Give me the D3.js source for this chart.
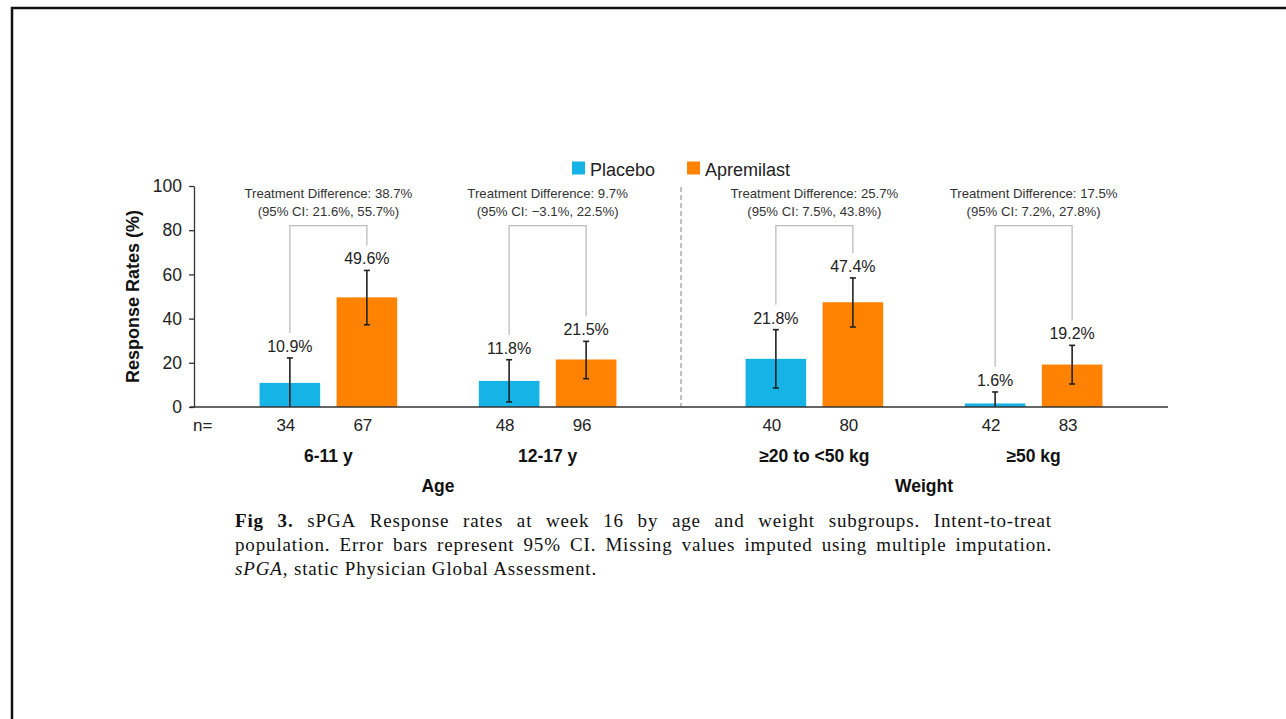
<!DOCTYPE html>
<html>
<head>
<meta charset="utf-8">
<script src="https://cdn.jsdelivr.net/npm/d3@7"></script>
<style>
  html, body { margin: 0; padding: 0; background: #fff; }
  svg { display: block; }
</style>
</head>
<body>
<svg id="chart" width="1286" height="719"></svg>
<script>
// ---------- DATA ----------
const categories = ["6-11 y", "12-17 y", "≥20 to <50 kg", "≥50 kg"];
const panelOf = ["Age", "Age", "Weight", "Weight"];
const panels = ["Age", "Weight"];
const seriesNames = ["Placebo", "Apremilast"];
const seriesColors = ["#16B3E6", "#FF8200"];

const placebo = [10.9, 11.8, 21.8, 1.6];
const placeboLow = [0, 2.3, 8.6, 0];
const placeboHigh = [22.2, 21.4, 35.0, 6.8];
const placeboN = [34, 48, 40, 42];

const apremilast = [49.6, 21.5, 47.4, 19.2];
const apremilastLow = [37.2, 12.8, 36.2, 10.4];
const apremilastHigh = [61.8, 29.7, 58.4, 27.9];
const apremilastN = [67, 96, 80, 83];

const diff = [38.7, 9.7, 25.7, 17.5];
const diffLow = [21.6, -3.1, 7.5, 7.2];
const diffHigh = [55.7, 22.5, 43.8, 27.8];

const yTicks = [0, 20, 40, 60, 80, 100];
const yTitle = "Response Rates (%)";

const captionLines = [
  [{t: "Fig", b: true}, {t: "3.", b: true}, "sPGA", "Response", "rates", "at", "week", "16", "by", "age", "and", "weight", "subgroups.", "Intent-to-treat"],
  ["population.", "Error", "bars", "represent", "95%", "CI.", "Missing", "values", "imputed", "using", "multiple", "imputation."]
];

// ---------- LAYOUT ----------
const svg = d3.select("#chart");
const sans = "'Liberation Sans', Arial, sans-serif";
const serif = "'Liberation Serif', 'Times New Roman', serif";

const axisLeft = 194, axisRight = 1168;
const panelGap = 47.5, outerPad = 24.75;
const y = d3.scaleLinear().domain([0, 100]).range([407, 186]);

const xGroup = d3.scaleBand().domain(categories)
  .range([axisLeft + outerPad, axisRight - outerPad - panelGap]).padding(0);
const gx = (c, i) => xGroup(c) + (panelOf[i] === "Weight" ? panelGap : 0);
const xInner = d3.scaleBand().domain(seriesNames)
  .range([0, xGroup.bandwidth()]).paddingInner(0.213).paddingOuter(0.53);

const rows = categories.map((c, i) => ({
  cat: c, i,
  series: [
    {name: "Placebo", v: placebo[i], lo: placeboLow[i], hi: placeboHigh[i], n: placeboN[i], color: seriesColors[0]},
    {name: "Apremilast", v: apremilast[i], lo: apremilastLow[i], hi: apremilastHigh[i], n: apremilastN[i], color: seriesColors[1]}
  ]
}));
const cx = (r, s) => gx(r.cat, r.i) + xInner(s.name) + xInner.bandwidth() / 2;
const fmt1 = d3.format(".1f");

// Border frame
svg.append("path").attr("d", "M12,719V8H1286")
  .attr("fill", "none").attr("stroke", "#111").attr("stroke-width", 2.5);

// Divider
const divX = xGroup(categories[2]) + panelGap / 2;
svg.append("line").attr("x1", divX).attr("x2", divX).attr("y1", 187).attr("y2", y(0))
  .attr("stroke", "#9a9a9a").attr("stroke-width", 1.2).attr("stroke-dasharray", "5,3");

// Y axis
const yAxis = svg.append("g").attr("transform", `translate(${axisLeft},0)`)
  .call(d3.axisLeft(y).tickValues(yTicks).tickSize(5).tickSizeOuter(0).tickPadding(7));
yAxis.select(".domain").attr("stroke", "#333").attr("stroke-width", 1.3);
yAxis.selectAll(".tick line").attr("stroke", "#333").attr("stroke-width", 1.3);
yAxis.selectAll(".tick text").attr("font-family", sans).attr("font-size", 17.5).attr("fill", "#222");

svg.append("text").attr("transform", `translate(139,${(y(0) + y(100)) / 2}) rotate(-90)`)
  .attr("text-anchor", "middle").attr("font-family", sans).attr("font-weight", "bold")
  .attr("font-size", 18).attr("fill", "#111").text(yTitle);

// Bars
const g = svg.append("g");
rows.forEach(r => {
  r.series.forEach(s => {
    g.append("rect")
      .attr("x", gx(r.cat, r.i) + xInner(s.name))
      .attr("width", xInner.bandwidth())
      .attr("y", y(s.v)).attr("height", y(0) - y(s.v))
      .attr("fill", s.color);
  });
});

// X axis line
svg.append("line").attr("x1", axisLeft - 4).attr("x2", axisRight).attr("y1", y(0)).attr("y2", y(0))
  .attr("stroke", "#333").attr("stroke-width", 1.5);

// Error bars, value labels, brackets
const bracketY = 225.7;
rows.forEach(r => {
  const ends = [];
  r.series.forEach(s => {
    const x = cx(r, s);
    g.append("line").attr("x1", x).attr("x2", x).attr("y1", y(s.hi)).attr("y2", y(s.lo))
      .attr("stroke", "#222").attr("stroke-width", 1.6);
    [s.hi, s.lo].forEach(v => {
      if (v > 0) g.append("line").attr("x1", x - 3).attr("x2", x + 3).attr("y1", y(v)).attr("y2", y(v))
        .attr("stroke", "#222").attr("stroke-width", 1.6);
    });
    const base = y(s.hi) - 6;
    g.append("text").attr("x", x).attr("y", base).attr("text-anchor", "middle")
      .attr("font-family", sans).attr("font-size", 16).attr("fill", "#222")
      .text(fmt1(s.v) + "%");
    ends.push({x, yEnd: base - 19});
    // n
    svg.append("text").attr("x", x - 4).attr("y", 431).attr("text-anchor", "middle")
      .attr("font-family", sans).attr("font-size", 17).attr("fill", "#222").text(s.n);
  });
  g.append("path")
    .attr("d", `M${ends[0].x},${ends[0].yEnd}V${bracketY}H${ends[1].x}V${ends[1].yEnd}`)
    .attr("fill", "none").attr("stroke", "#bdbdbd").attr("stroke-width", 1.3);
  const mid = gx(r.cat, r.i) + xGroup.bandwidth() / 2;
  const t = svg.append("text").attr("text-anchor", "middle").attr("font-family", sans)
    .attr("font-size", 13.2).attr("fill", "#333");
  t.append("tspan").attr("x", mid).attr("y", 198).text(`Treatment Difference: ${fmt1(diff[r.i])}%`);
  t.append("tspan").attr("x", mid).attr("y", 215.5).text(`(95% CI: ${fmt1(diffLow[r.i])}%, ${fmt1(diffHigh[r.i])}%)`);
  // group label
  svg.append("text").attr("x", mid).attr("y", 462).attr("text-anchor", "middle")
    .attr("font-family", sans).attr("font-weight", "bold").attr("font-size", 17.5).attr("fill", "#111")
    .text(r.cat);
});

svg.append("text").attr("x", axisLeft - 1).attr("y", 431).attr("font-family", sans)
  .attr("font-size", 17).attr("fill", "#222").text("n=");

// Panel labels
panels.forEach(p => {
  const idx = panelOf.map((q, i) => q === p ? i : -1).filter(i => i >= 0);
  const xs = idx.map(i => gx(categories[i], i) + xGroup.bandwidth() / 2);
  svg.append("text").attr("x", d3.mean(xs)).attr("y", 492).attr("text-anchor", "middle")
    .attr("font-family", sans).attr("font-weight", "bold").attr("font-size", 17.5).attr("fill", "#111")
    .text(p);
});

// Legend
const legX = [572, 687];
seriesNames.forEach((name, i) => {
  svg.append("rect").attr("x", legX[i]).attr("y", 161.5).attr("width", 13).attr("height", 13)
    .attr("fill", seriesColors[i]);
  svg.append("text").attr("x", legX[i] + 18).attr("y", 175.5).attr("font-family", sans)
    .attr("font-size", 18).attr("fill", "#222").text(name);
});

// Caption (justified lines)
const capLeft = 235, capRight = 1052, capFont = 19, capSpacing = 0.85;
const capBase = [527, 551, 575];
captionLines.forEach((words, li) => {
  const t = svg.append("text").attr("y", capBase[li]).attr("font-family", serif)
    .attr("font-size", capFont).attr("letter-spacing", capSpacing).attr("fill", "#111");
  const spans = words.map(w => {
    const o = typeof w === "string" ? {t: w} : w;
    const sp = t.append("tspan").attr("y", capBase[li]).text(o.t);
    if (o.b) sp.attr("font-weight", "bold");
    return sp;
  });
  const widths = spans.map(s => s.node().getComputedTextLength());
  const gap = (capRight - capLeft - d3.sum(widths)) / (spans.length - 1);
  let x = capLeft;
  spans.forEach((s, k) => { s.attr("x", x); x += widths[k] + gap; });
});
const l3 = svg.append("text").attr("x", capLeft).attr("y", capBase[2]).attr("font-family", serif)
  .attr("font-size", capFont).attr("letter-spacing", capSpacing).attr("fill", "#111");
l3.append("tspan").attr("font-style", "italic").text("sPGA");
l3.append("tspan").text(", static Physician Global Assessment.");
</script>
</body>
</html>
